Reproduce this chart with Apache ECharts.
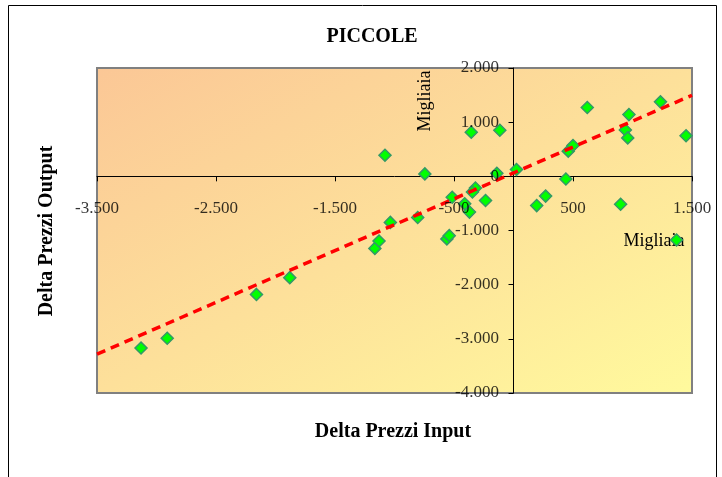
<!DOCTYPE html>
<html>
<head>
<meta charset="utf-8">
<script src="https://cdn.jsdelivr.net/npm/echarts@6/dist/echarts.min.js"></script>
<style>html,body{margin:0;padding:0;background:#fff}#c{width:722px;height:477px}</style>
</head>
<body>
<div id="c"></div>
<script>
// Data
const deltaInput = [-3130,-2910,-2160,-1880,-1165,-1130,-1080,-1035,-805,-745,-560,-540,-515,-410,-370,-355,-320,-345,-235,-140,-115,25,195,270,440,460,500,620,900,940,960,970,1235,1370,1450];
const deltaOutput = [-3170,-2990,-2180,-1870,-1330,-1195,390,-850,-760,45,-1155,-1095,-385,-505,-660,815,-215,-290,-445,55,850,125,-540,-365,-50,465,570,1270,-515,855,710,1140,1375,-1175,750];
const trendX = [-3500, 1500];
const trendY = [-3283, 1497];
const xTickLabels = [-3500, -2500, -1500, -500, 500, 1500];
const yTickLabels = [-4000, -3000, -2000, -1000, 0, 1000, 2000];
const xTicks = {min:-3500, max:1500, step:1000};
const yTicks = {min:-4000, max:2000, step:1000};

const points = deltaInput.map((x,i)=>[x, deltaOutput[i]]);
const trend = trendX.map((x,i)=>[x, trendY[i]]);
const fmt = v => { const s = String(Math.abs(v)).replace(/\B(?=(\d{3})+(?!\d))/g,'.'); return (v<0?'-':'')+s; };
const serif = '"Liberation Serif", "DejaVu Serif", serif';
const tickLabelStyle = {show:true, color:'#000', fontFamily:serif, fontSize:17};

const chart = echarts.init(document.getElementById('c'), null, {renderer:'canvas'});
const option = {
  animation:false,
  backgroundColor:'#fff',
  grid:{left:97, top:68, right:30, bottom:84, show:true, borderColor:'#808080', borderWidth:2,
    backgroundColor:{type:'linear', x:0, y:0, x2:0.46, y2:1.54, colorStops:[
      {offset:0, color:'#FBC796'}, {offset:0.5, color:'#FDE09A'}, {offset:1, color:'#FFFA9D'}]}},
  xAxis:{type:'value', min:xTicks.min, max:xTicks.max, interval:xTicks.step, offset:0,
    axisLine:{onZero:false, lineStyle:{color:'#000', width:1}},
    axisTick:{show:true, inside:false, length:5, lineStyle:{color:'#000'}},
    axisLabel:{show:false},
    splitLine:{show:false}},
  yAxis:{type:'value', min:yTicks.min, max:yTicks.max, interval:yTicks.step, offset:0,
    axisLine:{onZero:false, lineStyle:{color:'#000', width:1}},
    axisTick:{show:true, length:5, lineStyle:{color:'#000'}},
    axisLabel:{show:false},
    splitLine:{show:false}},
  series:[
    {type:'scatter', data:points, symbol:'diamond', symbolSize:12, z:3,
      itemStyle:{color:'#00FF00', borderColor:'#339966', borderWidth:1.5, opacity:1}},
    {type:'line', data:trend, showSymbol:false, symbol:'none', z:4,
      lineStyle:{color:'#FF0000', width:3.5, type:[9,6]}},
    // tick labels of the horizontal axis (placed on the x axis line at y = 0)
    {type:'scatter', silent:true, z:5, symbolSize:1, itemStyle:{color:'transparent'},
      data:xTickLabels.map(v=>[v,0]),
      label:Object.assign({}, tickLabelStyle, {position:'bottom', distance:23, formatter:p=>fmt(p.value[0])})},
    // tick labels of the vertical axis (placed on the y axis line at x = 0)
    {type:'scatter', silent:true, z:5, symbolSize:1, itemStyle:{color:'transparent'},
      data:yTickLabels.map(v=>[0,v]),
      label:Object.assign({}, tickLabelStyle, {position:'left', distance:14, formatter:p=>fmt(p.value[1])})}
  ],
  graphic:[
    {type:'rect', shape:{x:8.5, y:5.5, width:708, height:490}, style:{fill:'none', stroke:'#000', lineWidth:1}, silent:true, z:-10},
    {type:'text', x:372, y:37, style:{text:'PICCOLE', font:'bold 20px '+serif, fill:'#000', textAlign:'center', textVerticalAlign:'middle'}},
    {type:'text', x:393, y:432, style:{text:'Delta Prezzi Input', font:'bold 20px '+serif, fill:'#000', textAlign:'center', textVerticalAlign:'middle'}},
    {type:'text', x:47, y:231, rotation:Math.PI/2, style:{text:'Delta Prezzi Output', font:'bold 20px '+serif, fill:'#000', textAlign:'center', textVerticalAlign:'middle'}},
    {type:'text', x:425, y:101, rotation:Math.PI/2, style:{text:'Migliaia', font:'18px '+serif, fill:'#000', textAlign:'center', textVerticalAlign:'middle'}, z:1},
    {type:'text', x:654, y:241, style:{text:'Migliaia', font:'18px '+serif, fill:'#000', textAlign:'center', textVerticalAlign:'middle'}, z:1}
  ]
};
chart.setOption(option);
// Move the axes so they cross at the origin (value 0 on the other axis)
const origin = chart.convertToPixel({gridIndex:0}, [0, 0]);
const bottomY = chart.convertToPixel({gridIndex:0}, [0, yTicks.min])[1];
const leftX = chart.convertToPixel({gridIndex:0}, [xTicks.min, 0])[0];
chart.setOption({
  xAxis:{offset: -(bottomY - origin[1])},
  yAxis:{offset: -(origin[0] - leftX)}
});
</script>
</body>
</html>
